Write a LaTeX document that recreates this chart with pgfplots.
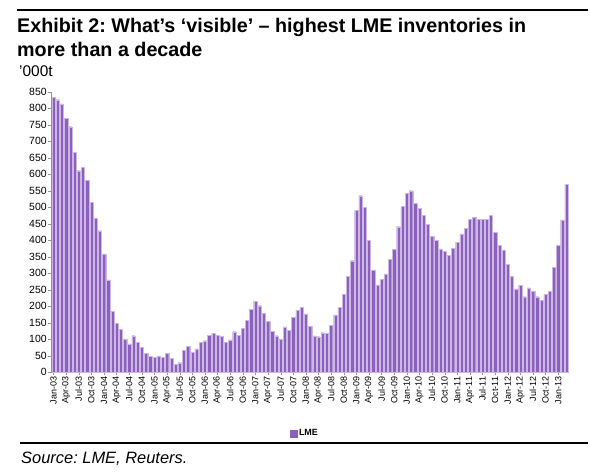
\documentclass[border=0pt]{standalone}
\usepackage{fontspec}
\setmainfont{Liberation Sans}
\usepackage{pgfplots}
\usepackage{pgfplotstable}
\pgfplotsset{compat=1.18}
\frenchspacing

\definecolor{lmebar}{RGB}{139,96,190}
\definecolor{axisgrey}{RGB}{150,150,150}

% month index (0 = Jan-03) and LME stocks, '000t
\pgfplotstableread{
m val
0 833
1 826
2 813
3 770
4 744
5 667
6 611
7 621
8 581
9 515
10 467
11 429
12 359
13 280
14 185
15 149
16 131
17 101
18 86
19 111
20 91
21 76
22 58
23 48
24 45
25 50
26 45
27 58
28 42
29 25
30 29
31 66
32 78
33 61
34 71
35 91
36 96
37 112
38 118
39 113
40 109
41 91
42 98
43 123
44 113
45 133
46 157
47 190
48 215
49 202
50 179
51 155
52 124
53 111
54 101
55 138
56 128
57 167
58 187
59 197
60 177
61 139
62 110
63 108
64 120
65 119
66 143
67 174
68 197
69 237
70 290
71 338
72 490
73 535
74 500
75 399
76 310
77 265
78 281
79 298
80 343
81 372
82 441
83 502
84 542
85 550
86 512
87 497
88 475
89 449
90 412
91 399
92 374
93 366
94 354
95 376
96 394
97 419
98 436
99 463
100 470
101 463
102 463
103 463
104 475
105 424
106 384
107 371
108 328
109 290
110 253
111 263
112 229
113 256
114 247
115 229
116 219
117 237
118 247
119 318
120 384
121 462
122 569
}\lmedata

\begin{document}
\begin{tikzpicture}
\useasboundingbox (0bp,0bp) rectangle (590bp,-473bp);
\draw[line width=2bp] (17bp,-10bp) -- (588bp,-10bp);
\node[anchor=base west, inner sep=0pt, font=\bfseries\fontsize{19.8}{23}\selectfont] at (17bp,-32bp) {Exhibit 2: What’s ‘visible’ – highest LME inventories in};
\node[anchor=base west, inner sep=0pt, font=\bfseries\fontsize{19.8}{23}\selectfont] at (17bp,-56bp) {more than a decade};
\node[anchor=base west, inner sep=0pt, font=\fontsize{15.5}{17}\selectfont] at (19bp,-76bp) {’000t};

\begin{axis}[
  at={(51.4bp,-372.3bp)}, anchor=south west,
  scale only axis,
  width=517.3bp, height=280.6bp,
  ybar, bar width=3.3bp,
  xmin=-0.5, xmax=122.5,
  ymin=0, ymax=850,
  axis lines=left,
  axis line style={-, draw=axisgrey},
  tick style={draw=axisgrey},
  tick align=outside,
  major tick length=3bp,
  ytick={0,50,...,850},
  xtick={0,3,...,120},
  xticklabels={Jan-03,Apr-03,Jul-03,Oct-03,Jan-04,Apr-04,Jul-04,Oct-04,
    Jan-05,Apr-05,Jul-05,Oct-05,Jan-06,Apr-06,Jul-06,Oct-06,
    Jan-07,Apr-07,Jul-07,Oct-07,Jan-08,Apr-08,Jul-08,Oct-08,
    Jan-09,Apr-09,Jul-09,Oct-09,Jan-10,Apr-10,Jul-10,Oct-10,
    Jan-11,Apr-11,Jul-11,Oct-11,Jan-12,Apr-12,Jul-12,Oct-12,Jan-13},
  /pgf/number format/assume math mode=true,
  yticklabel style={font=\fontsize{10.5}{11}\selectfont, inner sep=1.5bp},
  xticklabel style={rotate=90, anchor=east, font=\fontsize{9}{10}\selectfont, inner sep=1.5bp},
  legend style={at={(0.49,-0.218)}, anchor=center, draw=none, fill=none,
    font=\bfseries\fontsize{9}{10}\selectfont},
  legend image code/.code={\fill[lmebar] (0bp,-3.5bp) rectangle (7bp,3.5bp);},
]
\addplot[fill=lmebar, draw=lmebar!45!white, line width=0.2bp] table[x=m, y=val] {\lmedata};
\legend{LME}
\end{axis}

\draw[line width=1.5bp] (20bp,-443bp) -- (588bp,-443bp);
\node[anchor=base west, inner sep=0pt, font=\itshape\fontsize{16.5}{18}\selectfont] at (21bp,-463bp) {Source: LME, Reuters.};
\end{tikzpicture}
\end{document}
